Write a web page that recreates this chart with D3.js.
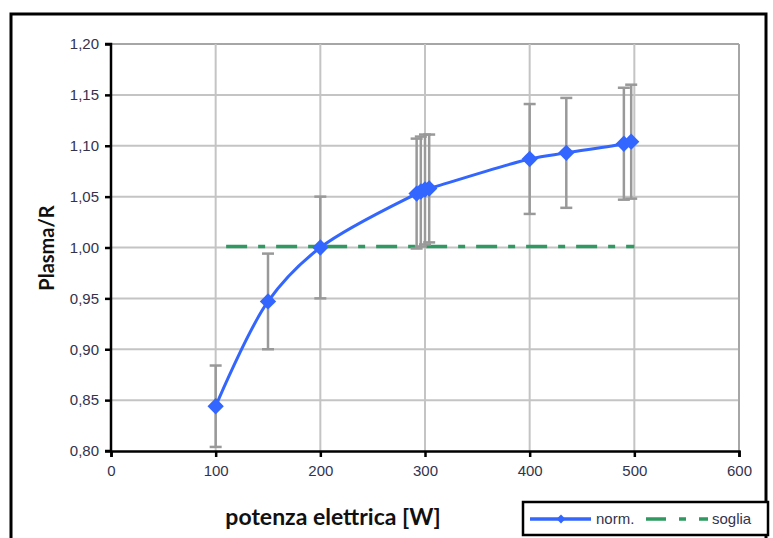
<!DOCTYPE html>
<html>
<head>
<meta charset="utf-8">
<script src="https://cdn.jsdelivr.net/npm/d3@7"></script>
<style>
  body { margin: 0; background: #fff; }
  svg { display: block; }
</style>
</head>
<body>
<svg id="chart"></svg>
<script>
// measured series (potenza elettrica vs Plasma/R)
const power = [100, 150, 200, 292, 296, 300, 304, 400, 435, 490, 497];
const ratio = [0.844, 0.947, 1.000, 1.053, 1.055, 1.057, 1.058, 1.087, 1.093, 1.102, 1.104];
const errs  = [0.040, 0.047, 0.050, 0.054, 0.054, 0.054, 0.053, 0.054, 0.054, 0.055, 0.056];

// threshold line
const sogliaX = [110, 500];
const sogliaY = [1.001, 1.001];

const xTicks = [0, 100, 200, 300, 400, 500, 600];
const yTicks = [0.80, 0.85, 0.90, 0.95, 1.00, 1.05, 1.10, 1.15, 1.20];

const width = 773, height = 538;
const svg = d3.select("#chart").attr("width", width).attr("height", height);

const x = d3.scaleLinear().domain([0, 600]).range([111, 739]);
const y = d3.scaleLinear().domain([0.80, 1.20]).range([451, 44]);

const tickFont = "'Liberation Sans Narrow', 'Arial Narrow', 'Liberation Sans', sans-serif";
const titleFont = "Lato, 'Open Sans', sans-serif";
const blue = "#3366ff", green = "#2e9960", grey = "#999";

// outer frame
svg.append("rect")
  .attr("x", 11).attr("y", 14).attr("width", 755).attr("height", 540)
  .attr("fill", "none").attr("stroke", "#000").attr("stroke-width", 3);

// grid
const grid = svg.append("g");
grid.selectAll(".gy").data(yTicks.slice(1)).enter().append("line")
  .attr("x1", x(0)).attr("x2", x(600))
  .attr("y1", d => y(d)).attr("y2", d => y(d))
  .attr("stroke", d => d === 1.20 ? "#a6a6a6" : "#c4c4c4").attr("stroke-width", 2);
grid.selectAll(".gx").data(xTicks.slice(1)).enter().append("line")
  .attr("x1", d => x(d)).attr("x2", d => x(d))
  .attr("y1", y(0.80)).attr("y2", y(1.20))
  .attr("stroke", d => d === 600 ? "#a6a6a6" : "#c4c4c4").attr("stroke-width", 2);

// axes
const yAxis = svg.append("g")
  .attr("transform", `translate(${x(0)},0)`)
  .call(d3.axisLeft(y).tickValues(yTicks).tickSize(6).tickPadding(6)
    .tickFormat(d => d3.format(".2f")(d).replace(".", ",")));
const xAxis = svg.append("g")
  .attr("transform", `translate(0,${y(0.80)})`)
  .call(d3.axisBottom(x).tickValues(xTicks).tickSize(6).tickPadding(8));
[xAxis, yAxis].forEach(a => {
  a.select(".domain").attr("stroke", "#000").attr("stroke-width", 2.5);
  a.selectAll(".tick line").attr("stroke", "#000").attr("stroke-width", 2.5);
  a.selectAll("text").attr("font-family", tickFont).attr("font-size", 15).attr("fill", "#33334d");
});
yAxis.select(".domain").attr("d", `M-6,${y(1.20)}H0V${y(0.80)}H-6`);

// threshold
svg.append("line")
  .attr("x1", x(sogliaX[0])).attr("x2", x(sogliaX[1]))
  .attr("y1", y(sogliaY[0])).attr("y2", y(sogliaY[1]))
  .attr("stroke", green).attr("stroke-width", 3.5)
  .attr("stroke-dasharray", "21 11 7 11");

// error bars
const pts = power.map((p, i) => ({ p, v: ratio[i], e: errs[i] }));
const eb = svg.append("g").attr("stroke", grey).attr("stroke-width", 2.5);
eb.selectAll(".bar").data(pts).enter().append("line")
  .attr("x1", d => x(d.p)).attr("x2", d => x(d.p))
  .attr("y1", d => y(d.v - d.e)).attr("y2", d => y(d.v + d.e));
eb.selectAll(".capt").data(pts).enter().append("line")
  .attr("x1", d => x(d.p) - 6).attr("x2", d => x(d.p) + 6)
  .attr("y1", d => y(d.v + d.e)).attr("y2", d => y(d.v + d.e));
eb.selectAll(".capb").data(pts).enter().append("line")
  .attr("x1", d => x(d.p) - 6).attr("x2", d => x(d.p) + 6)
  .attr("y1", d => y(d.v - d.e)).attr("y2", d => y(d.v - d.e));

// smoothed line
const line = d3.line().x(d => x(d.p)).y(d => y(d.v)).curve(d3.curveCatmullRom.alpha(0.5));
svg.append("path").datum(pts)
  .attr("d", line).attr("fill", "none")
  .attr("stroke", blue).attr("stroke-width", 3);

// diamond markers
const diamond = d3.symbol().type(d3.symbolDiamond2).size(170);
svg.selectAll(".mk").data(pts).enter().append("path")
  .attr("d", diamond)
  .attr("transform", d => `translate(${x(d.p)},${y(d.v)})`)
  .attr("fill", blue);

// axis titles
svg.append("text")
  .attr("x", 333).attr("y", 525).attr("text-anchor", "middle")
  .attr("font-family", titleFont).attr("font-weight", "bold")
  .attr("font-size", 23).attr("fill", "#111")
  .text("potenza elettrica [W]");
svg.append("text")
  .attr("transform", "translate(54,248) rotate(-90)").attr("text-anchor", "middle")
  .attr("font-family", titleFont).attr("font-weight", "bold")
  .attr("font-size", 20).attr("fill", "#111")
  .text("Plasma/R");

// legend
const lg = svg.append("g");
lg.append("rect").attr("x", 523).attr("y", 502).attr("width", 245).attr("height", 33)
  .attr("fill", "#fff").attr("stroke", "#000").attr("stroke-width", 2.5);
lg.append("line").attr("x1", 530).attr("x2", 591).attr("y1", 519).attr("y2", 519)
  .attr("stroke", blue).attr("stroke-width", 3.5);
lg.append("path").attr("d", d3.symbol().type(d3.symbolDiamond2).size(50))
  .attr("transform", "translate(561,519)").attr("fill", blue);
lg.append("text").attr("x", 596).attr("y", 524).text("norm.")
  .attr("font-family", tickFont).attr("font-size", 15).attr("fill", "#33334d");
lg.append("line").attr("x1", 646).attr("x2", 708).attr("y1", 519).attr("y2", 519)
  .attr("stroke", green).attr("stroke-width", 3.5).attr("stroke-dasharray", "20 13 7 13 9 0");
lg.append("text").attr("x", 712).attr("y", 524).text("soglia")
  .attr("font-family", tickFont).attr("font-size", 15).attr("fill", "#33334d");
</script>
</body>
</html>
